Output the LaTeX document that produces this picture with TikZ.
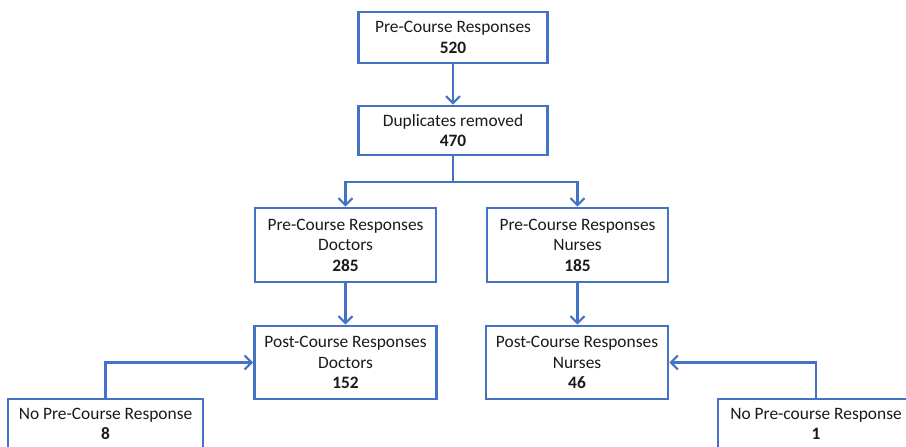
\documentclass[tikz,border=0pt]{standalone}
\usepackage{fontspec}
\setmainfont{Carlito}
\usetikzlibrary{arrows.meta}
\definecolor{flowblue}{HTML}{4472C4}
\definecolor{txt}{HTML}{1A1A1A}
\begin{document}
\begin{tikzpicture}[x=1pt,y=-1pt,
  box/.style={draw=flowblue,line width=2.6pt,fill=white,inner sep=0pt,align=center,
    text=txt,font=\fontsize{17.4}{20.5}\selectfont},
  arr/.style={draw=flowblue,line width=2.6pt,-{Straight Barb[length=7pt,width=14pt,line width=2.2pt]}},
  conn/.style={draw=flowblue,line width=2.6pt}]
\useasboundingbox (0,0) rectangle (906,447);
\clip (0,0) rectangle (906,447);
\node[box,minimum width=189pt,minimum height=51pt] (pre) at (453,37.5) {Pre-Course Responses\\\textbf{520}};
\node[box,minimum width=189pt,minimum height=49pt] (dup) at (453,130.5) {Duplicates removed\\\textbf{470}};
\node[box,minimum width=181pt,minimum height=74pt] (pred) at (345.5,245) {Pre-Course Responses\\Doctors\\\textbf{285}};
\node[box,minimum width=181pt,minimum height=74pt] (pren) at (577.5,245) {Pre-Course Responses\\Nurses\\\textbf{185}};
\node[box,minimum width=182pt,minimum height=73pt] (postd) at (345.5,362.5) {Post-Course Responses\\Doctors\\\textbf{152}};
\node[box,minimum width=182pt,minimum height=73pt] (postn) at (577,362.5) {Post-Course Responses\\Nurses\\\textbf{46}};
\node[box,minimum width=195pt,minimum height=50pt] (nopl) at (105.5,424) {No Pre-Course Response\\\textbf{8}};
\node[box,minimum width=196pt,minimum height=50pt] (nopr) at (816,424) {No Pre-course Response\\\textbf{1}};
\coordinate (split) at (453,182);
\draw[arr] (pre) -- (dup);
\draw[conn] (dup.south) -- (split);
\draw[arr] (split) -| (pred.north);
\draw[arr] (split) -| (pren.north);
\draw[arr] (pred.south) -- (pred.south |- postd.north);
\draw[arr] (pren.south) -- (pren.south |- postn.north);
\draw[arr] (nopl.north) |- (postd.west);
\draw[arr] (nopr.north) |- (postn.east);
\end{tikzpicture}
\end{document}
